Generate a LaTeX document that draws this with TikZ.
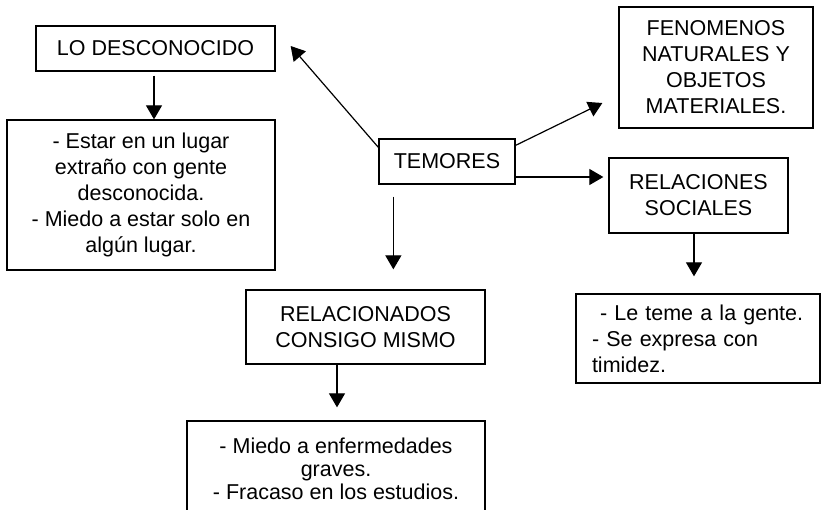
\documentclass[tikz,border=0pt]{standalone}
\usepackage{fontspec}
\setmainfont{Liberation Sans}
\usetikzlibrary{arrows.meta}
\tikzset{%
    caja/.style={draw, line width=1.3pt, inner sep=0pt, align=center,
        font=\fontsize{21.5}{26}\selectfont},
    flecha/.style={line width=1.2pt, -{Triangle[length=14pt,width=16pt]}}
}

\begin{document}
\begin{tikzpicture}[x=1pt,y=-1pt]
    \clip (0,0) rectangle (822,509);
    \fill[white] (0,0) rectangle (822,509);
    \node[caja, minimum width=239pt, minimum height=45pt] (desconocido) at (155.5,48.5) {LO DESCONOCIDO};
    \node[caja, minimum width=268pt, minimum height=150pt] (lugar) at (141,195) {- Estar en un lugar\\ extraño con gente\\ desconocida.\\ - Miedo a estar solo en\\ algún lugar.};
    \node[caja, minimum width=136pt, minimum height=45pt] (temores) at (447,161.5) {TEMORES};
    \node[caja, minimum width=194pt, minimum height=121pt] (fenomenos) at (716,67.5) {FENOMENOS\\ NATURALES Y\\ OBJETOS\\ MATERIALES.};
    \node[caja, minimum width=179pt, minimum height=75pt] (sociales) at (698.5,195.5) {RELACIONES\\ SOCIALES};
    \node[caja, align=left, text width=212pt, inner xsep=16pt, minimum height=89pt] (gente) at (698,338.5) {\hspace*{8pt}- Le teme a la gente.\\ - Se expresa con\\ timidez.};
    \node[caja, minimum width=239pt, minimum height=74pt] (mismo) at (365.5,327) {RELACIONADOS\\ CONSIGO MISMO};
    \node[caja, font=\fontsize{21.5}{23}\selectfont, minimum width=298pt, minimum height=95pt] (miedo) at (336,468.5) {- Miedo a enfermedades\\ graves.\\ - Fracaso en los estudios.};

    \draw[flecha] ([yshift=-9pt]temores.north west) -- ([xshift=15pt,yshift=2.5pt]desconocido.east);
    \draw[flecha, shorten <=4pt] ([xshift=-1.5pt]desconocido.south) -- ([xshift=-1.5pt]desconocido.south |- lugar.north);
    \draw[flecha, shorten <=12pt, shorten >=20pt] ([xshift=15pt]temores.south west) -- ([xshift=15pt]temores.south west |- mismo.north);
    \draw[flecha, shorten >=13pt] ([xshift=-28.5pt]mismo.south) -- ([xshift=-28.5pt]mismo.south |- miedo.north);
    \draw[flecha] ([yshift=-7pt]temores.north east) -- ([xshift=-16pt,yshift=-35.5pt]fenomenos.west);
    \draw[flecha, shorten >=5pt] ([yshift=-15.5pt]temores.east) -- ([yshift=-15.5pt]temores.east -| sociales.west);
    \draw[flecha, shorten >=17pt] ([xshift=-4.5pt]sociales.south) -- ([xshift=-4.5pt]sociales.south |- gente.north);
\end{tikzpicture}
\end{document}
